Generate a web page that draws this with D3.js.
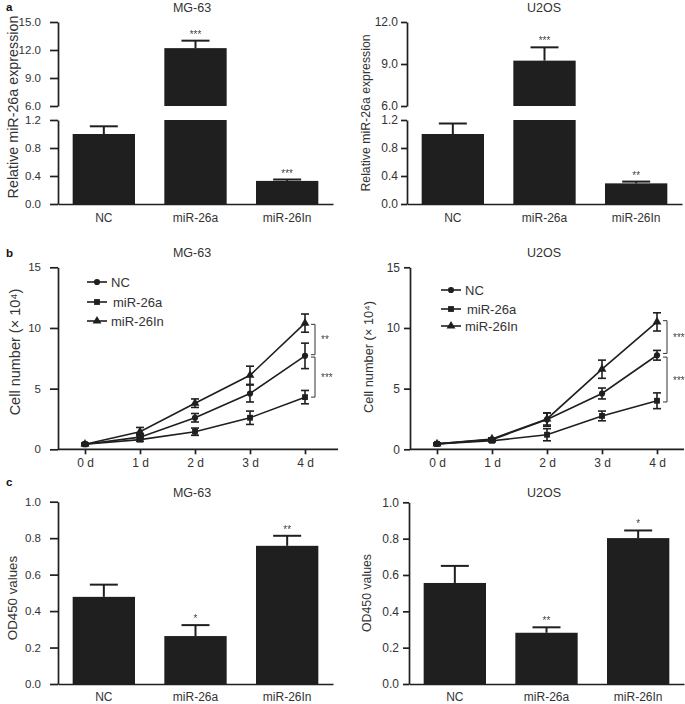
<!DOCTYPE html>
<html><head><meta charset="utf-8">
<script src="https://cdn.jsdelivr.net/npm/d3@7"></script>
<style>
body{margin:0;background:#fff;}
svg{display:block;font-family:"Liberation Sans",Arial,sans-serif;}
</style></head>
<body><svg id="chart" width="685" height="704"></svg>
<script>
// ---------- DATA ----------
const categories = ["NC", "miR-26a", "miR-26In"];
const days = ["0 d", "1 d", "2 d", "3 d", "4 d"];
const seriesNames = ["NC", "miR-26a", "miR-26In"];

// Panel a: relative miR-26a expression
const aMG63Mean = [1.0, 12.2, 0.33];
const aMG63Err  = [0.11, 0.8, 0.02];
const aMG63Sig  = ["", "***", "***"];
const aU2OSMean = [1.0, 9.24, 0.295];
const aU2OSErr  = [0.15, 0.95, 0.025];
const aU2OSSig  = ["", "***", "**"];
const aMG63LowTicks = [0.0, 0.4, 0.8, 1.2];
const aMG63HighTicks = [6.0, 9.0, 12.0, 15.0];
const aU2OSLowTicks = [0.0, 0.4, 0.8, 1.2];
const aU2OSHighTicks = [6.0, 9.0, 12.0];

// Panel b: cell number (x 10^4)
const bMG63NC     = [0.42, 1.0, 2.6, 4.6, 7.7];
const bMG63NCErr  = [0.08, 0.2, 0.35, 0.7, 1.05];
const bMG63Mi     = [0.42, 0.8, 1.45, 2.6, 4.3];
const bMG63MiErr  = [0.08, 0.15, 0.3, 0.55, 0.55];
const bMG63In     = [0.42, 1.45, 3.8, 6.1, 10.4];
const bMG63InErr  = [0.08, 0.35, 0.35, 0.75, 0.75];
const bMG63Brackets = [[10.3, 7.8, "**"], [7.6, 4.3, "***"]];

const bU2OSNC     = [0.45, 0.8, 2.45, 4.6, 7.75];
const bU2OSNCErr  = [0.06, 0.1, 0.55, 0.45, 0.4];
const bU2OSMi     = [0.45, 0.7, 1.2, 2.75, 4.0];
const bU2OSMiErr  = [0.06, 0.1, 0.5, 0.4, 0.65];
const bU2OSIn     = [0.45, 0.85, 2.5, 6.6, 10.5];
const bU2OSInErr  = [0.06, 0.1, 0.5, 0.75, 0.75];
const bU2OSBrackets = [[10.6, 7.9, "***"], [7.6, 3.9, "***"]];
const bTicks = [0, 5, 10, 15];

// Panel c: OD450 values
const cMG63Mean = [0.478, 0.263, 0.758];
const cMG63Err  = [0.067, 0.06, 0.055];
const cMG63Sig  = ["", "*", "**"];
const cU2OSMean = [0.556, 0.282, 0.803];
const cU2OSErr  = [0.094, 0.03, 0.042];
const cU2OSSig  = ["", "**", "*"];
const cTicks = [0.0, 0.2, 0.4, 0.6, 0.8, 1.0];

// ---------- DRAW ----------
const svg = d3.select("#chart");
const INK = "#1f1f1f";
const TXT = "#333";

// grayscale filter for the small asterisk labels
svg.append("defs").append("filter").attr("id", "gray")
  .attr("x", "-20%").attr("y", "-20%").attr("width", "140%").attr("height", "140%")
  .append("feColorMatrix").attr("type", "saturate").attr("values", 0);

function styleAxis(g, fs) {
  g.selectAll("path.domain").attr("stroke", INK).attr("stroke-width", 1.7);
  g.selectAll(".tick line").attr("stroke", INK).attr("stroke-width", 1.7);
  g.selectAll("text").attr("fill", TXT).style("font-size", fs + "px")
    .style("font-family", '"Liberation Sans",Arial,sans-serif');
}

function yLabel(text, x, y, fs) {
  svg.append("text").attr("transform", `translate(${x},${y}) rotate(-90)`)
    .attr("text-anchor", "middle").attr("dominant-baseline", "central")
    .attr("fill", TXT).style("font-size", fs + "px").text(text);
}
function title(text, x, y) {
  svg.append("text").attr("x", x).attr("y", y).attr("text-anchor", "middle")
    .attr("fill", TXT).style("font-size", "12.5px").text(text);
}
function panelLetter(text, x, y) {
  svg.append("text").attr("x", x).attr("y", y).attr("fill", "#111")
    .style("font-size", "11.5px").style("font-weight", "bold").text(text);
}

function barPanel(o) {
  const x = d3.scaleBand().domain(categories).range([o.x0, o.x0 + 275])
    .paddingInner(0.32).paddingOuter(0.16);
  const yLow = d3.scaleLinear().domain(o.lowDomain).range(o.lowRange);
  const yHigh = o.highDomain ? d3.scaleLinear().domain(o.highDomain).range(o.highRange) : null;
  const fmt = d3.format(".1f");
  const g = svg.append("g");
  const ga = g.append("g").attr("transform", `translate(${o.x0},0)`)
    .call(d3.axisLeft(yLow).tickValues(o.lowTicks).tickFormat(fmt).tickSize(o.tk).tickPadding(o.tp).tickSizeOuter(0));
  styleAxis(ga, o.tfs);
  if (yHigh) {
    const gb = g.append("g").attr("transform", `translate(${o.x0},0)`)
      .call(d3.axisLeft(yHigh).tickValues(o.highTicks).tickFormat(fmt).tickSize(o.tk).tickPadding(o.tp).tickSizeOuter(0));
    styleAxis(gb, o.tfs);
  }
  o.mean.forEach((v, i) => {
    const c = categories[i];
    const bx = x(c), bw = x.bandwidth(), cx = bx + bw / 2;
    const lowMax = o.lowDomain[1];
    let topY, errY;
    if (yHigh && v > lowMax) {
      g.append("rect").attr("x", bx).attr("width", bw)
        .attr("y", yLow(lowMax)).attr("height", yLow(0) - yLow(lowMax)).attr("fill", INK);
      g.append("rect").attr("x", bx).attr("width", bw)
        .attr("y", yHigh(v)).attr("height", yHigh(o.highDomain[0]) - yHigh(v)).attr("fill", INK);
      topY = yHigh(v);
      errY = yHigh(v + o.err[i]);
    } else {
      g.append("rect").attr("x", bx).attr("width", bw)
        .attr("y", yLow(v)).attr("height", yLow(0) - yLow(v)).attr("fill", INK);
      topY = yLow(v);
      errY = yLow(v + o.err[i]);
    }
    g.append("line").attr("x1", cx).attr("x2", cx).attr("y1", topY).attr("y2", errY)
      .attr("stroke", INK).attr("stroke-width", 2);
    g.append("line").attr("x1", cx - 14).attr("x2", cx + 14).attr("y1", errY).attr("y2", errY)
      .attr("stroke", INK).attr("stroke-width", 2);
    if (o.sig[i]) {
      g.append("text").attr("filter", "url(#gray)").attr("x", cx).attr("y", errY - 3).attr("text-anchor", "middle")
        .attr("fill", "#444").style("font-size", "10px").text(o.sig[i]);
    }
  });
  const gx = g.append("g").attr("transform", `translate(0,${yLow(0)})`)
    .call(d3.axisBottom(x).tickSize(0).tickPadding(o.xPad).tickSizeOuter(0));
  styleAxis(gx, 12);
}

function symbolFor(name) {
  if (name === "NC") return d3.symbol().type(d3.symbolCircle).size(30)();
  if (name === "miR-26a") return d3.symbol().type(d3.symbolSquare).size(34)();
  return d3.symbol().type(d3.symbolTriangle).size(34)();
}

function linePanel(o) {
  const x = d3.scaleLinear().domain([0, days.length - 1]).range([o.x0 + 27, o.x0 + 247]);
  const y = d3.scaleLinear().domain([0, 15]).range([449.3, 267.3]);
  const g = svg.append("g");
  const gy = g.append("g").attr("transform", `translate(${o.x0},0)`)
    .call(d3.axisLeft(y).tickValues(bTicks).tickSize(o.tk).tickPadding(o.tp).tickSizeOuter(0));
  styleAxis(gy, o.tfs);
  const xAx = d3.axisBottom(x).tickValues(d3.range(days.length)).tickFormat(i => days[i])
    .tickSize(5).tickPadding(4).tickSizeOuter(0);
  const gx = g.append("g").attr("transform", `translate(0,${y(0)})`).call(xAx);
  gx.select("path.domain").attr("d", `M${o.x0},0H${o.xEnd}`);
  styleAxis(gx, 12);
  const line = d3.line().x((d, i) => x(i)).y(d => y(d));
  o.series.forEach(s => {
    g.append("path").datum(s.values).attr("d", line).attr("fill", "none")
      .attr("stroke", INK).attr("stroke-width", 1.6);
  });
  o.series.forEach(s => {
    s.values.forEach((v, i) => {
      const e = s.err[i], cx = x(i);
      g.append("line").attr("x1", cx).attr("x2", cx).attr("y1", y(v - e)).attr("y2", y(v + e))
        .attr("stroke", INK).attr("stroke-width", 1.6);
      [v - e, v + e].forEach(w => g.append("line").attr("x1", cx - 4).attr("x2", cx + 4)
        .attr("y1", y(w)).attr("y2", y(w)).attr("stroke", INK).attr("stroke-width", 1.6));
      g.append("path").attr("d", symbolFor(s.name)).attr("transform", `translate(${cx},${y(v)})`)
        .attr("fill", INK);
    });
  });
  const bx = x(days.length - 1) + 10;
  o.brackets.forEach(b => {
    g.append("path").attr("d", `M${bx - 4},${y(b[0])}H${bx}V${y(b[1])}H${bx - 4}`)
      .attr("fill", "none").attr("stroke", "#333").attr("stroke-width", 1);
    g.append("text").attr("filter", "url(#gray)").attr("x", bx + 6).attr("y", (y(b[0]) + y(b[1])) / 2 + 4)
      .attr("fill", "#444").style("font-size", "10px").text(b[2]);
  });
  o.series.forEach((s, i) => {
    const ly = o.legendY[i];
    g.append("line").attr("x1", o.legX).attr("x2", o.legX + 20).attr("y1", ly).attr("y2", ly)
      .attr("stroke", INK).attr("stroke-width", 1.6);
    g.append("path").attr("d", symbolFor(s.name)).attr("transform", `translate(${o.legX + 10},${ly})`)
      .attr("fill", INK);
    g.append("text").attr("x", o.legX + 24 + (i === 1 ? 2 : 0)).attr("y", ly)
      .attr("dominant-baseline", "central").attr("fill", TXT).style("font-size", "13px").text(s.name);
  });
}

// Panel a
panelLetter("a", 6, 11);
title("MG-63", 192, 12);
title("U2OS", 544, 12);
barPanel({x0: 58, lowDomain: [0, 1.2], lowRange: [204, 120], highDomain: [6, 15], highRange: [106, 22],
  lowTicks: aMG63LowTicks, highTicks: aMG63HighTicks, mean: aMG63Mean, err: aMG63Err, sig: aMG63Sig,
  xPad: 9, tk: 8, tp: 9, tfs: 11.5});
barPanel({x0: 407, lowDomain: [0, 1.2], lowRange: [204, 120], highDomain: [6, 12], highRange: [106, 22],
  lowTicks: aU2OSLowTicks, highTicks: aU2OSHighTicks, mean: aU2OSMean, err: aU2OSErr, sig: aU2OSSig,
  xPad: 9, tk: 6, tp: 3, tfs: 12});
yLabel("Relative miR-26a expression", 13, 107, 14.3);
yLabel("Relative miR-26a expression", 366, 113, 12.3);

// Panel b
panelLetter("b", 6, 257);
title("MG-63", 192, 257);
title("U2OS", 544, 257);
linePanel({x0: 58, xEnd: 338, legX: 87, legendY: [282, 302, 321], brackets: bMG63Brackets,
  tk: 8, tp: 9, tfs: 11.5,
  series: [{name: "NC", values: bMG63NC, err: bMG63NCErr},
           {name: "miR-26a", values: bMG63Mi, err: bMG63MiErr},
           {name: "miR-26In", values: bMG63In, err: bMG63InErr}]});
linePanel({x0: 410, xEnd: 684, legX: 441, legendY: [290, 309, 326], brackets: bU2OSBrackets,
  tk: 6, tp: 4, tfs: 12,
  series: [{name: "NC", values: bU2OSNC, err: bU2OSNCErr},
           {name: "miR-26a", values: bU2OSMi, err: bU2OSMiErr},
           {name: "miR-26In", values: bU2OSIn, err: bU2OSInErr}]});
yLabel("Cell number (× 10⁴)", 15, 352, 14.5);
yLabel("Cell number (× 10⁴)", 368, 357, 12.8);

// Panel c
panelLetter("c", 6, 486);
title("MG-63", 192, 497);
title("U2OS", 544, 497);
barPanel({x0: 58, lowDomain: [0, 1.0], lowRange: [684, 501.7],
  lowTicks: cTicks, mean: cMG63Mean, err: cMG63Err, sig: cMG63Sig, xPad: 8, tk: 8, tp: 9, tfs: 11.5});
barPanel({x0: 409, lowDomain: [0, 1.0], lowRange: [684, 502.3],
  lowTicks: cTicks, mean: cU2OSMean, err: cU2OSErr, sig: cU2OSSig, xPad: 8, tk: 6, tp: 4, tfs: 12});
yLabel("OD450 values", 12, 598, 13.3);
yLabel("OD450 values", 367, 593, 12.3);
</script></body></html>
